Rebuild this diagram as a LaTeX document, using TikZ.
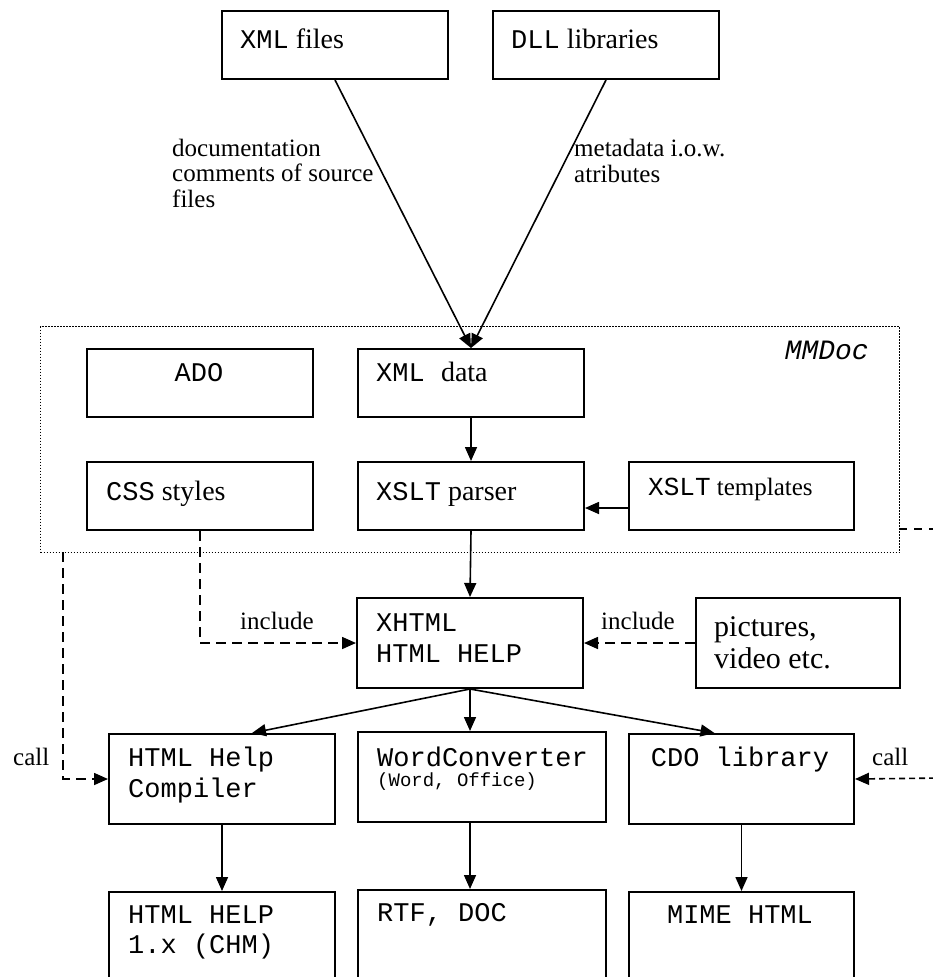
\documentclass[tikz,border=0pt]{standalone}
\usepackage{fontspec}
\setmainfont{Liberation Serif}
\setmonofont{Liberation Mono}
\usetikzlibrary{arrows.meta,calc}
\newcommand\fsz[2]{\fontsize{#1}{#2}\selectfont}
\newcommand\cour[1]{{\fsz{27}{31}\ttfamily #1}}
\begin{document}
\begin{tikzpicture}[x=1pt,y=-1pt,
  box/.style={draw, line width=2pt, inner sep=0pt, anchor=north west},
  dotbox/.style={draw, line width=1.2pt, dash pattern=on 1.2pt off 1.8pt, inner sep=0pt, anchor=north west},
  txt/.style={inner sep=0pt, anchor=base west, font=\fsz{28}{31}},
  lbl/.style={inner sep=0pt, anchor=base west, align=left, font=\fsz{25}{25.5}},
  arr/.style={line width=1.6pt, -{Triangle[length=14pt,width=12pt]}},
  dashA/.style={dash pattern=on 10pt off 6pt},
  dashB/.style={dash pattern=on 8pt off 7pt, line width=1.6pt},
  dashC/.style={dash pattern=on 6pt off 4pt}]
\useasboundingbox (0,0) rectangle (933,977);
\clip (0,0) rectangle (933,977);
% top boxes
\node[box, minimum width=226pt, minimum height=68pt] (xmlfiles) at (221,10) {};
\node[box, minimum width=226pt, minimum height=68pt] (dll) at (492,10) {};
\node[txt] (xmlfilesT) at (240,48) {\cour{XML} files};
\node[txt] (dllT) at (511,48) {\cour{DLL} libraries};
\node[lbl] (docL) at (172,207) {documentation\\comments of source\\files};
\node[lbl] (metaL) at (574,182) {metadata i.o.w.\\atributes};
% MMDoc group
\node[dotbox, minimum width=859pt, minimum height=226pt] (mmdoc) at (40,326) {};
\node[inner sep=0pt, anchor=base east, font=\fsz{28}{31}\ttfamily\itshape] (mmdocT) at (869,359) {MMDoc};
\node[box, minimum width=226pt, minimum height=68pt] (ado) at (86,348) {};
\node[box, minimum width=226pt, minimum height=68pt] (xmldata) at (357,348) {};
\node[box, minimum width=226pt, minimum height=68pt] (css) at (86,461) {};
\node[box, minimum width=226pt, minimum height=68pt] (parser) at (357,461) {};
\node[box, minimum width=225pt, minimum height=68pt] (templ) at (628,461) {};
\node[txt, anchor=base] (adoT) at (199,381) {\cour{ADO}};
\node[txt] (xmldataT) at (376,381) {\cour{XML\ }data};
\node[txt] (cssT) at (106,500) {\cour{CSS} styles};
\node[txt] (parserT) at (376,500) {\cour{XSLT} parser};
\node[txt, font=\fsz{25}{28}] (templT) at (648,495) {{\fsz{26}{28}\ttfamily XSLT} templates};
% XHTML row
\node[box, minimum width=226pt, minimum height=90pt] (xhtml) at (356,597) {};
\node[box, minimum width=204pt, minimum height=90pt] (pictures) at (695,597) {};
\node[txt, align=left, font=\fsz{27}{31}\ttfamily] (xhtmlT) at (376,662) {XHTML\\HTML HELP};
\node[txt, align=left, font=\fsz{30}{32}] (picturesT) at (714,668) {pictures,\\video etc.};
\node[lbl] (incL) at (240,629) {include};
\node[lbl] (incR) at (601,629) {include};
% converter row
\node[box, minimum width=226pt, minimum height=90pt] (compiler) at (108,733) {};
\node[box, minimum width=248pt, minimum height=90pt] (word) at (357,731) {};
\node[box, minimum width=225pt, minimum height=90pt] (cdo) at (628,733) {};
\node[txt, align=left, font=\fsz{27}{31}\ttfamily] (compilerT) at (128,797) {HTML Help\\Compiler};
\node[txt, font=\fsz{27}{31}\ttfamily] (wordT) at (377,766) {WordConverter};
\node[txt, font=\fsz{19}{22}\ttfamily] (wordS) at (377,786) {(Word, Office)};
\node[txt, anchor=base, font=\fsz{27}{31}\ttfamily] (cdoT) at (740,766) {CDO library};
\node[lbl] (callLT) at (13,765) {call};
\node[lbl] (callRT) at (872,765) {call};
% output row
\node[box, minimum width=226pt, minimum height=100pt] (hhelp) at (108,891) {};
\node[box, minimum width=248pt, minimum height=100pt] (rtf) at (357,889) {};
\node[box, minimum width=225pt, minimum height=100pt] (mime) at (628,891) {};
\node[txt, align=left, font=\fsz{27}{30}\ttfamily] (hhelpT) at (128,953) {HTML HELP\\1.x (CHM)};
\node[txt, font=\fsz{27}{31}\ttfamily] (rtfT) at (377,921) {RTF, DOC};
\node[txt, anchor=base, font=\fsz{27}{31}\ttfamily] (mimeT) at (740,923) {MIME HTML};
% free ends
\coordinate (callL) at (63,552);
\coordinate (mmR) at (899,529);
\coordinate (mmRend) at (945,529);
\coordinate (callR) at (945,778);
% connectors
\draw[arr] (xmlfiles.south) -- (xmldata.north);
\draw[arr] (dll.south) -- (xmldata.north);
\draw[arr] (xmldata.south) -- (parser.north);
\draw[arr] ([yshift=-12pt]templ.west) -- ([yshift=-12pt]parser.east);
\draw[arr] (parser.south) -- (xhtml.north);
\draw[arr, dashA] (css.south) |- (xhtml.west);
\draw[arr, dashA] (pictures.west) -- (xhtml.east);
\draw[arr, dashA] (callL) |- (compiler.west);
\draw[dashB] (mmR) -- (mmRend);
\draw[arr, dashC] (callR) -- (cdo.east);
\draw[arr] (xhtml.south) -- ([xshift=30pt]compiler.north);
\draw[arr] (xhtml.south) -- (xhtml.south |- word.north);
\draw[arr] (xhtml.south) -- ([xshift=-27pt]cdo.north);
\draw[arr] (compiler.south) -- (hhelp.north);
\draw[arr] (xhtml.south |- word.south) -- (xhtml.south |- rtf.north);
\draw[arr] (cdo.south) -- (mime.north);
\end{tikzpicture}
\end{document}
